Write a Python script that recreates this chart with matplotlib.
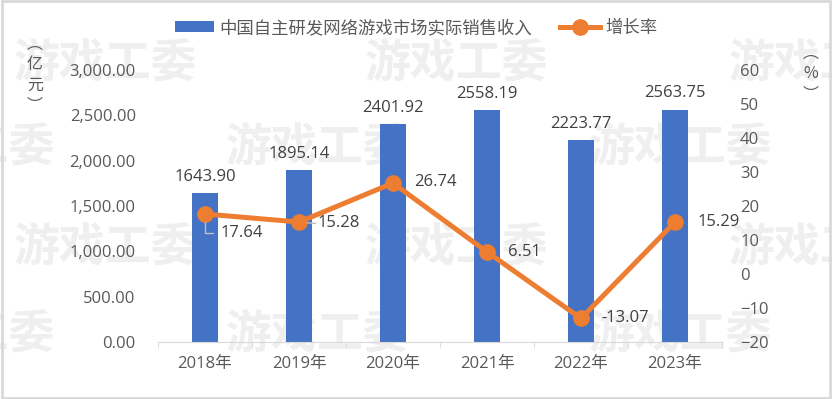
import matplotlib.pyplot as plt
import numpy as np

plt.rcParams['font.family'] = ['Open Sans', 'Noto Sans CJK SC', 'DejaVu Sans']

years = ['2018年', '2019年', '2020年', '2021年', '2022年', '2023年']
revenue = [1643.90, 1895.14, 2401.92, 2558.19, 2223.77, 2563.75]
growth = [17.64, 15.28, 26.74, 6.51, -13.07, 15.29]
bar_name = '中国自主研发网络游戏市场实际销售收入'
line_name = '增长率'
watermark = '游戏工委'

blue = '#4472C4'
orange = '#ED7D31'
grey = '#595959'
cjk = ['Noto Sans CJK SC', 'DejaVu Sans']

W, H = 832, 399
fig = plt.figure(figsize=(W / 100, H / 100), dpi=100)

# watermark grid, pixel centres
rows = [(64, [105, 456, 820]), (148, [-37, 317, 680]),
        (248, [105, 456, 820]), (335, [-37, 317, 680])]
for py, cols in rows:
    for px in cols:
        fig.text(px / W, 1 - py / H, watermark, fontsize=33, fontweight='bold',
                 family=cjk, color='#efefef', ha='center', va='center', zorder=-5)

ax = fig.add_axes([158 / W, 1 - 342 / H, 564 / W, 272 / H])
ax.patch.set_alpha(0)
x = np.arange(len(years))
bars = ax.bar(x, revenue, width=0.27, color=blue, label=bar_name, zorder=2)
ax.set_xlim(-0.5, 5.5)
ax.set_ylim(0, 3000)
yt = np.arange(0, 3001, 500)
ax.set_yticks(yt)
ax.set_yticklabels([f'{v:,.2f}' for v in yt])
ax.set_xticks(x)
ax.set_xticklabels(years)
ax.set_xticks(np.arange(-0.5, 6, 1), minor=True)
ax.tick_params(axis='x', which='major', length=0, pad=10, labelsize=12, colors=grey)
ax.tick_params(axis='x', which='minor', length=4, color='#d9d9d9')
ax.tick_params(axis='y', length=0, labelsize=12, colors=grey, pad=16)
for s in ['top', 'right', 'left']:
    ax.spines[s].set_visible(False)
ax.spines['bottom'].set_color('#d9d9d9')

for xi, v in zip(x, revenue):
    ax.annotate(f'{v:.2f}', (xi, v), xytext=(0, 6), textcoords='offset points',
                ha='center', va='bottom', fontsize=12, color='#404040')

ax2 = ax.twinx()
ax2.patch.set_alpha(0)
line, = ax2.plot(x, growth, color=orange, lw=3.6, marker='o', ms=11,
                 label=line_name, zorder=3)
ax2.set_ylim(-20, 60)
ax2.set_yticks(np.arange(-20, 61, 10))
ax2.tick_params(axis='y', length=0, labelsize=12, colors=grey, pad=13)
for s in ['top', 'right', 'left', 'bottom']:
    ax2.spines[s].set_visible(False)

offsets = [(11, -14), (13, -1), (15, 1), (15, 0), (15, 0), (16, 0)]
for xi, g, off in zip(x, growth, offsets):
    ax2.annotate(f'{g:.2f}', (xi, g), xytext=off, textcoords='offset points',
                 ha='left', va='center', fontsize=12, color='#404040')
# leader lines
ax2.annotate('', (x[0], growth[0]), xytext=(6, -14), textcoords='offset points',
             arrowprops=dict(arrowstyle='-', color='#bfbfbf', lw=1,
                             connectionstyle='angle,angleA=0,angleB=90,rad=0',
                             shrinkA=0, shrinkB=6))
ax2.annotate('', (x[1], growth[1]), xytext=(12, -1), textcoords='offset points',
             arrowprops=dict(arrowstyle='-', color='#bfbfbf', lw=1, shrinkA=0, shrinkB=6))

leg = fig.legend([bars, line], [bar_name, line_name], loc='center',
                 bbox_to_anchor=(0.5, 1 - 28 / H), ncol=2, frameon=False,
                 prop={'family': cjk, 'size': 12.5}, labelcolor=grey, handlelength=2.3,
                 handleheight=0.6, columnspacing=1.6, handletextpad=0.3)

fig.text(35 / W, 1 - 75 / H, '︵\n亿\n元\n︶', ha='center', va='center', fontsize=11.5,
         family=cjk, color=grey, linespacing=1.25)
fig.text(811 / W, 1 - 74 / H, '︵\n%\n︶', ha='center', va='center', fontsize=11.5,
         family=cjk, color=grey, linespacing=1.25)

fig.patches.append(plt.Rectangle((0.002, 0.003), 0.996, 0.994, transform=fig.transFigure,
                                 fill=False, edgecolor='#d9d9d9', lw=2))

fig.savefig('out.png', dpi=100)
